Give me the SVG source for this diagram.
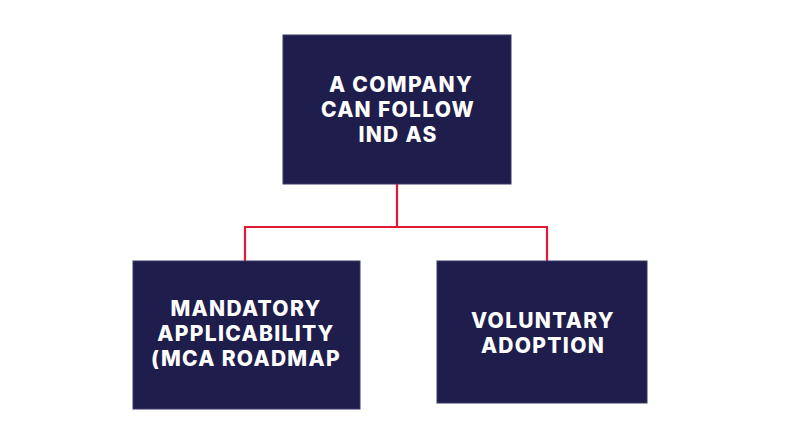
<svg xmlns="http://www.w3.org/2000/svg" width="800" height="448" viewBox="0 0 800 448">
<style>
.box{fill:#1f1d4b;stroke:#3a3868;stroke-width:1}
.t{font-family:Inter,"Open Sans","Liberation Sans",sans-serif;font-weight:800;font-size:21px;letter-spacing:1.3px;fill:#ffffff;text-anchor:middle}
.c{fill:none;stroke:#e01a35;stroke-width:2.2}
</style>
<rect width="800" height="448" fill="#ffffff"/>
<g id="connectors">
<path class="c" d="M397 184 V227 M245 261 V227 H547 V261"/>
</g>
<g id="root">
<rect class="box" x="283" y="35" width="228" height="149"/>
<text class="t" x="401" y="92">A COMPANY</text>
<text class="t" x="398" y="117">CAN FOLLOW</text>
<text class="t" x="398" y="142">IND AS</text>
</g>
<g id="mandatory">
<rect class="box" x="133" y="261" width="227" height="148"/>
<text class="t" x="246" y="316">MANDATORY</text>
<text class="t" x="246" y="341">APPLICABILITY</text>
<text class="t" x="246" y="366">(MCA ROADMAP</text>
</g>
<g id="voluntary">
<rect class="box" x="437" y="261" width="210" height="142"/>
<text class="t" x="543" y="328">VOLUNTARY</text>
<text class="t" x="543" y="353">ADOPTION</text>
</g>
</svg>
